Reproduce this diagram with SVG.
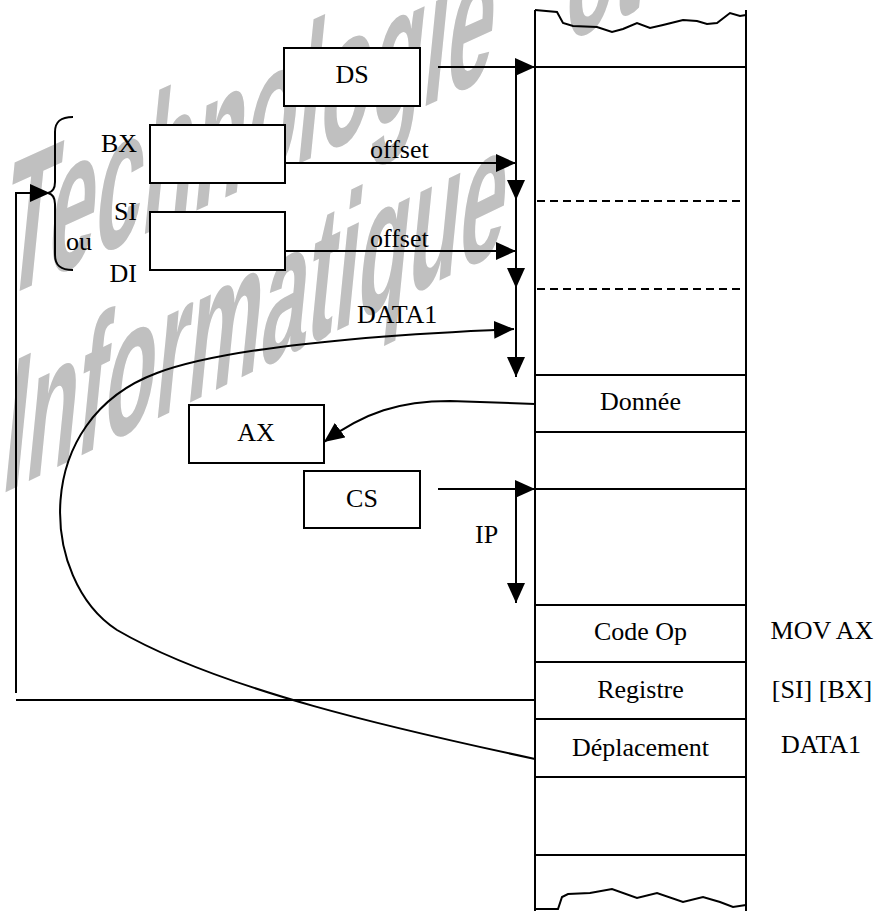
<svg xmlns="http://www.w3.org/2000/svg" width="889" height="911" viewBox="0 0 889 911">
<style>
.t{font-family:"Liberation Serif","Times New Roman",serif;font-size:26px;fill:#000}
.c{text-anchor:middle}
.e{text-anchor:end}
.box{fill:#fff;stroke:#000;stroke-width:2}
.ln{fill:none;stroke:#000;stroke-width:2}
.dash{fill:none;stroke:#000;stroke-width:2;stroke-dasharray:8 5}
.wm{font-family:"Liberation Sans",Arial,sans-serif;font-weight:bold;fill:#c0c0c0}
</style>
<defs>
<marker id="arr" markerUnits="userSpaceOnUse" markerWidth="20" markerHeight="18" refX="20" refY="9" orient="auto">
<path d="M0,0 L20,9 L0,18 z" fill="#000"/>
</marker>
</defs>
<rect width="889" height="911" fill="#fff"/>
<g id="watermark">
<g transform="translate(0,300) skewY(-24.5) skewX(-6)">
<text class="wm" x="0" y="0" font-size="190" textLength="490" lengthAdjust="spacingAndGlyphs">Technologie</text>
<text class="wm" x="562" y="0" font-size="190" textLength="78" lengthAdjust="spacingAndGlyphs">et</text>
</g>
<g transform="translate(0,495) skewY(-26) skewX(-6)">
<text class="wm" x="0" y="0" font-size="185" textLength="502" lengthAdjust="spacingAndGlyphs">Informatique</text>
</g>
</g>
<g id="memory">
<path class="ln" d="M535,10 L557,12 L563,23 L573,26 L597,27 L612,32 L623,29 L637,23 L650,28 L663,25 L683,20 L697,21 L707,24 L717,23 L730,13 L740,16 L746,15"/>
<path class="ln" d="M535,909 L558,909 L562,897 L568,894 L590,893 L612,889 L637,898 L657,893 L683,902 L703,897 L720,902 L733,907 L746,905"/>
<line class="ln" x1="535" y1="10" x2="535" y2="911"/>
<line class="ln" x1="746" y1="10" x2="746" y2="911"/>
<line class="ln" x1="535" y1="67" x2="746" y2="67"/>
<line class="dash" x1="537" y1="201" x2="746" y2="201"/>
<line class="dash" x1="537" y1="289" x2="746" y2="289"/>
<line class="ln" x1="535" y1="375" x2="746" y2="375"/>
<line class="ln" x1="535" y1="432" x2="746" y2="432"/>
<line class="ln" x1="535" y1="489" x2="746" y2="489"/>
<line class="ln" x1="535" y1="605" x2="746" y2="605"/>
<line class="ln" x1="535" y1="662" x2="746" y2="662"/>
<line class="ln" x1="535" y1="719" x2="746" y2="719"/>
<line class="ln" x1="535" y1="777" x2="746" y2="777"/>
<line class="ln" x1="535" y1="855" x2="746" y2="855"/>
<text class="t c" x="640.5" y="410">Donnée</text>
<text class="t c" x="640.5" y="640">Code Op</text>
<text class="t c" x="640.5" y="698">Registre</text>
<text class="t c" x="640.5" y="756">Déplacement</text>
</g>
<g id="instr-labels">
<text class="t c" x="822" y="639">MOV AX</text>
<text class="t c" x="822" y="698">[SI] [BX]</text>
<text class="t c" x="821" y="753">DATA1</text>
</g>
<g id="DS"><rect class="box" x="284" y="48" width="136" height="58"/><text class="t c" x="352" y="83">DS</text></g>
<g id="BX"><rect class="box" x="150" y="125" width="135" height="58"/><text class="t e" x="137" y="152">BX</text></g>
<g id="SIDI"><rect class="box" x="150" y="212" width="135" height="58"/><text class="t e" x="137" y="220">SI</text><text class="t e" x="137" y="282">DI</text></g>
<g id="brace">
<path class="ln" d="M73,117 C60,117 55,122 55,132 L55,182 C55,189 52,192 48,193 C52,194 55,197 55,204 L55,255 C55,265 60,270 73,270"/>
<text class="t" x="66" y="250">ou</text>
</g>
<g id="AX"><rect class="box" x="189" y="405" width="135" height="58"/><text class="t c" x="256" y="441">AX</text></g>
<g id="CS"><rect class="box" x="304" y="471" width="116" height="57"/><text class="t c" x="362" y="507">CS</text></g>
<g id="connectors">
<line class="ln" x1="438" y1="67" x2="535" y2="67" marker-end="url(#arr)"/>
<line class="ln" x1="516" y1="67" x2="516" y2="200" marker-end="url(#arr)"/>
<line class="ln" x1="516" y1="200" x2="516" y2="288" marker-end="url(#arr)"/>
<line class="ln" x1="516" y1="288" x2="516" y2="377" marker-end="url(#arr)"/>
<line class="ln" x1="285" y1="163" x2="516" y2="163" marker-end="url(#arr)"/>
<line class="ln" x1="285" y1="251" x2="516" y2="251" marker-end="url(#arr)"/>
<text class="t" x="370" y="158">offset</text>
<text class="t" x="370" y="247">offset</text>
<text class="t" x="357" y="323">DATA1</text>
<path class="ln" d="M535,759 C400,730 220,690 117,630 C40,580 30,420 157,373 C237,343 420,333 514,329" marker-end="url(#arr)"/>
<path class="ln" d="M535,404 L450,401 C400,401 365,412 324,442" marker-end="url(#arr)"/>
<line class="ln" x1="438" y1="489" x2="535" y2="489" marker-end="url(#arr)"/>
<line class="ln" x1="516" y1="489" x2="516" y2="603" marker-end="url(#arr)"/>
<text class="t" x="475" y="543">IP</text>
<line class="ln" x1="16" y1="700" x2="535" y2="700"/>
<polyline class="ln" points="16,693 16,193 50,193" marker-end="url(#arr)"/>
</g>
</svg>
